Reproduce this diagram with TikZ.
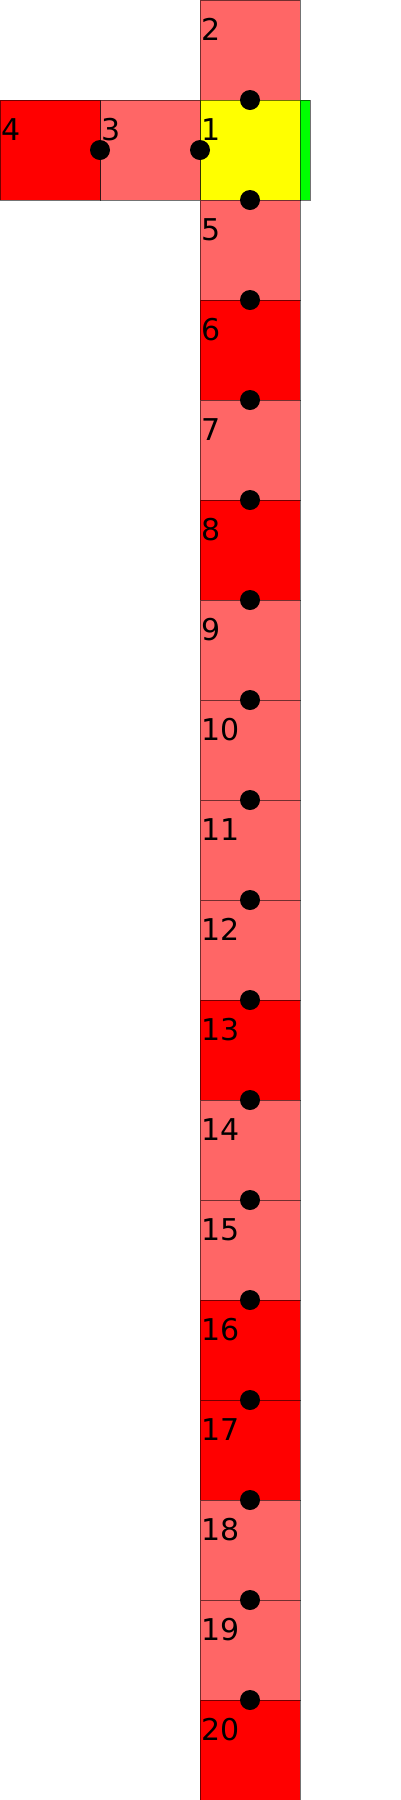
\documentclass[tikz,border=0pt]{standalone}
\usepackage{fontspec}
\setmainfont{DejaVu Sans}
\usetikzlibrary{positioning}
\definecolor{lightred}{HTML}{FF6666}
\definecolor{cellred}{HTML}{FF0000}
\definecolor{cellyellow}{HTML}{FFFF00}
\definecolor{cellgreen}{HTML}{00FF00}

\begin{document}
\begin{tikzpicture}[x=1pt,y=-1pt,
  cell/.style={draw=black,draw opacity=0.55,line width=1pt,minimum size=100pt,inner sep=0pt,outer sep=0pt},
  num/.style={font=\fontsize{30}{30}\selectfont,inner sep=0pt,anchor=base west},
  dot/.style={circle,fill=black,minimum size=20pt,inner sep=0pt}]
  \useasboundingbox (0,0) rectangle (400,1800);
  % top row and the starting cell
  \node[cell,fill=lightred] (sq2) at (250,50) {};
  \node[cell,fill=cellyellow] (sq1) at (250,150) {};
  \node[cell,fill=lightred] (sq3) at (150,150) {};
  \node[cell,fill=cellred] (sq4) at (50,150) {};
  \node[cell,fill=cellgreen,minimum width=10pt,anchor=west] (strip) at (sq1.east) {};
  % the long column
  \foreach \n/\c in {5/lightred,6/cellred,7/lightred,8/cellred,9/lightred,10/lightred,
      11/lightred,12/lightred,13/cellred,14/lightred,15/lightred,16/cellred,
      17/cellred,18/lightred,19/lightred,20/cellred}
    \node[cell,fill=\c] (sq\n) at (250,{100*\n-250}) {};
  % numbers
  \foreach \n in {1,...,20}
    \node[num] (lab\n) at ([shift={(1,40)}]sq\n.north west) {\n};
  % joints
  \node[dot] (d3) at (sq3.west) {};
  \node[dot] (d1) at (sq1.west) {};
  \foreach \n in {1,2,5,6,...,19}
    \node[dot] (j\n) at (sq\n.south) {};
\end{tikzpicture}
\end{document}
